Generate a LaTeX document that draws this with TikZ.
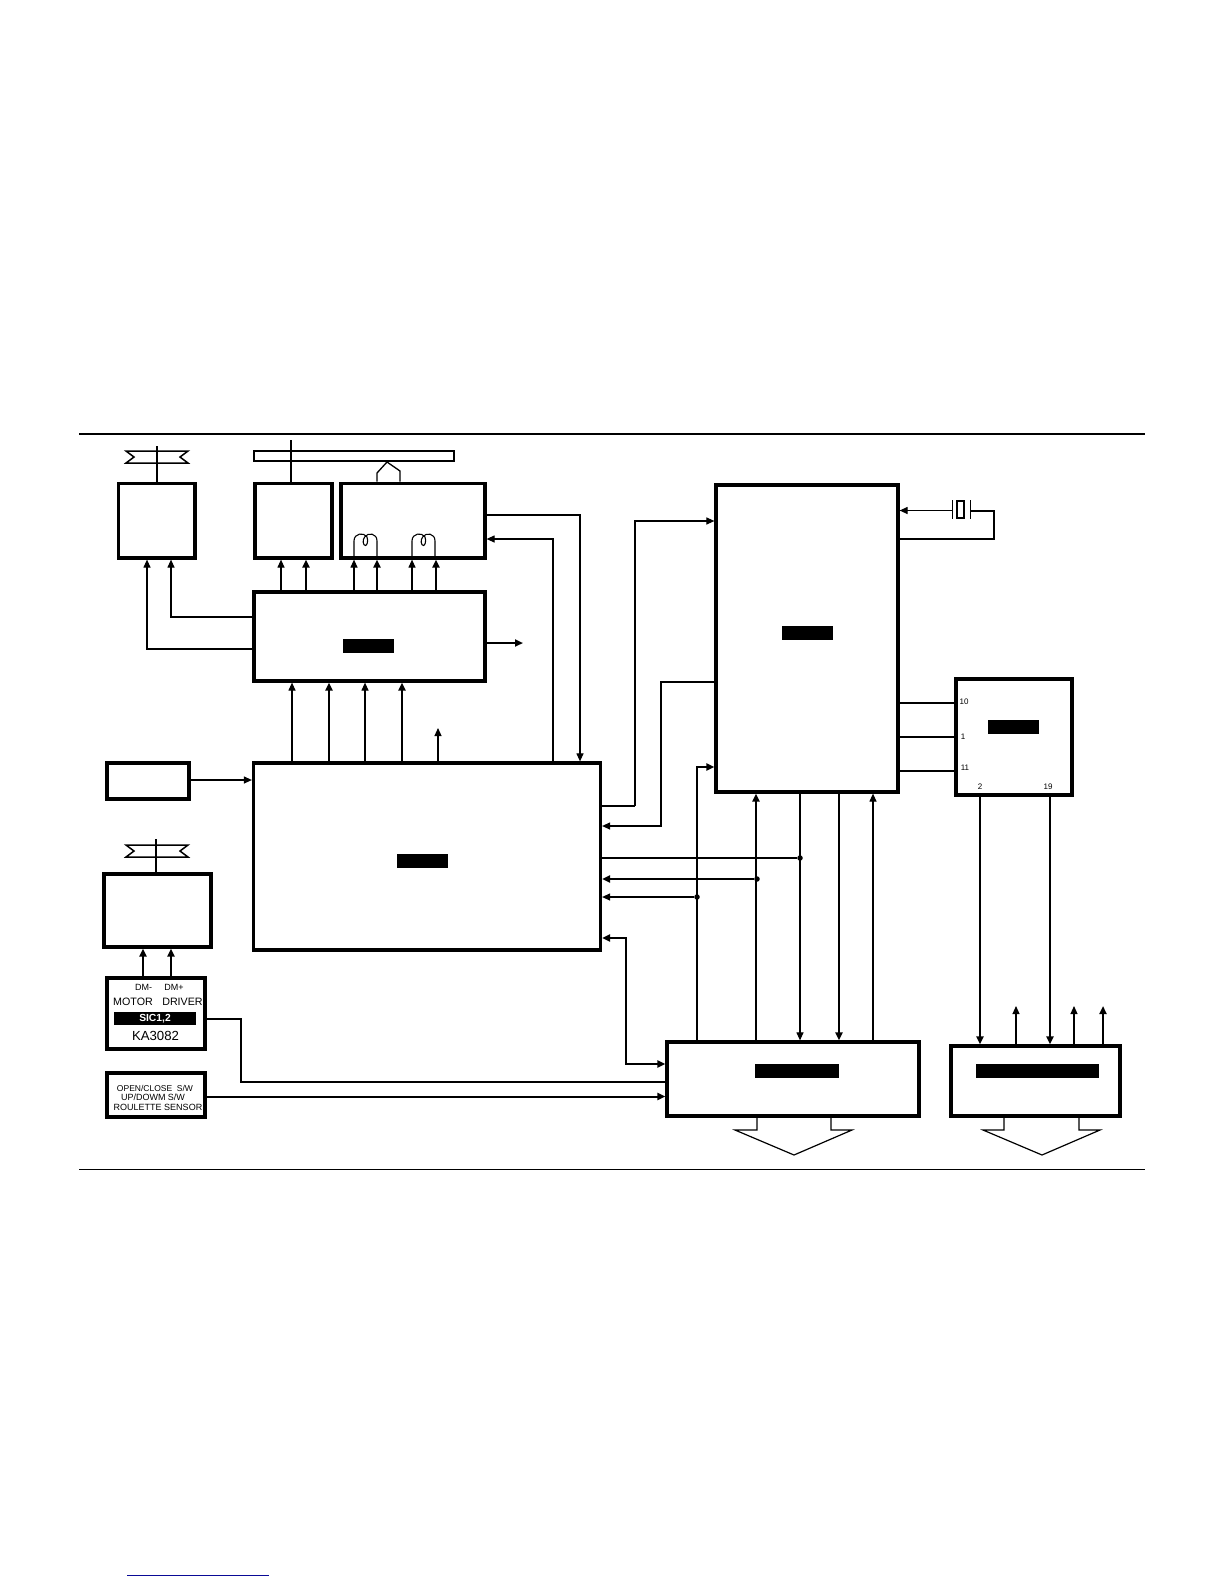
\documentclass[tikz,border=0pt]{standalone}
\usepackage{fontspec}
\setmainfont{Liberation Sans}
\usetikzlibrary{arrows.meta}
\tikzset{
  thn/.style={line width=1.15pt},
  thk/.style={line width=2pt},
  arr/.style={-{Triangle[length=8pt,width=7pt]}},
  lbl/.style={inner sep=0pt,font=\fontsize{9}{10}\selectfont},
  pin/.style={inner sep=0pt,font=\fontsize{8}{9}\selectfont},
  dotn/.style={circle,fill=black,inner sep=0pt,minimum size=5.5pt},
  blk/.style={fill=black,draw=none,inner sep=0pt,outer sep=0pt},
  shp/.style={line width=1.5pt,line join=miter},
}
% name, x1, y1, x2, y2 (stroke centre)
\newcommand{\blockbox}[5]{%
  \pgfmathsetmacro{\bw}{#4-#2}\pgfmathsetmacro{\bh}{#5-#3}%
  \node[draw,line width=3.2pt,inner sep=0pt,minimum width=\bw pt,minimum height=\bh pt] (#1) at ({(#2+#4)/2},{(#3+#5)/2}) {};}
\newcommand{\blackbar}[5]{%
  \pgfmathsetmacro{\bw}{#4-#2}\pgfmathsetmacro{\bh}{#5-#3}%
  \node[blk,minimum width=\bw pt,minimum height=\bh pt] (#1) at ({(#2+#4)/2},{(#3+#5)/2}) {};}
\newcommand{\ribbon}[2]{% cx, top
  \draw[shp,fill=white] (#1-31,#2) -- (#1+31,#2) -- (#1+23,#2+6) -- (#1+31,#2+12) -- (#1-31,#2+12) -- (#1-23,#2+6) -- cycle;}
\newcommand{\coil}[1]{% left leg x
  \draw[line width=1.1pt] (#1,558) -- (#1,541) .. controls (#1,533) and (#1+10,532) .. (#1+13,537)
   .. controls (#1+14.5,541) and (#1+13,545.5) .. (#1+11.5,545.5) .. controls (#1+9,545.5) and (#1+8,540) .. (#1+11,536.5)
   .. controls (#1+14,532.5) and (#1+23,533) .. (#1+23,541) -- (#1+23,558);}
\begin{document}
\begin{tikzpicture}[x=1pt,y=-1pt]
\path[use as bounding box,fill=white] (0,0) rectangle (1224,1584);
% rules
\coordinate (ruleTL) at (79,434); \coordinate (ruleTR) at (1145,434);
\coordinate (ruleBL) at (79,1169.5); \coordinate (ruleBR) at (1145,1169.5);
\coordinate (footL) at (127,1575); \coordinate (footR) at (269,1575);
\draw[line width=1.8pt] (ruleTL) -- (ruleTR);
\draw[line width=1.1pt] (ruleBL) -- (ruleBR);
\definecolor{footblue}{RGB}{10,10,150}
\draw[line width=1pt,footblue] (footL) -- (footR);
% boxes
\blockbox{mA}{118.3}{483.3}{195}{558}
\blockbox{mB}{255}{483.3}{332}{558}
\blockbox{mC}{341}{483.3}{485}{558}
\blockbox{drv}{254}{592}{485}{681}
\blockbox{small}{107}{763}{189}{799}
\blockbox{main}{253.5}{763}{600.5}{950}
\blockbox{mD}{104}{874}{211}{947}
\blockbox{mdrv}{107}{978}{205}{1049}
\blockbox{sw}{107}{1073}{205}{1117}
\blockbox{cpu}{716}{485}{898}{792}
\blockbox{ic}{956}{679}{1072}{795}
\blockbox{boxE}{667}{1042}{919}{1116}
\blockbox{boxF}{951}{1046}{1120}{1116}
% black bars
\blackbar{bDrv}{343}{639}{394}{653}
\blackbar{bMain}{397}{854}{448}{868}
\blackbar{bCpu}{782}{626}{833}{640}
\blackbar{bIc}{988}{720}{1039}{734}
\blackbar{bE}{755}{1064}{839}{1078}
\blackbar{bF}{976}{1064}{1099}{1078}
\blackbar{bM}{114}{1012}{196}{1025}
% texts
\node[inner sep=0pt,text=white,font=\bfseries\fontsize{10.3}{11}\selectfont] (tSic) at (155,1018.5) {SIC1,2};
\node[inner sep=0pt,font=\fontsize{13.2}{14}\selectfont] (tKa) at (155.5,1036) {KA3082};
\node[inner sep=0pt,font=\fontsize{10.7}{12}\selectfont] (tMot) at (133,1002) {MOTOR};
\node[inner sep=0pt,font=\fontsize{10.7}{12}\selectfont] (tDrv) at (182.5,1002) {DRIVER};
\node[lbl] (tDmm) at (143.5,987) {DM-};
\node[lbl] (tDmp) at (174,987) {DM+};
\node[inner sep=0pt,font=\fontsize{8.5}{10}\selectfont] (tOpen) at (155,1088) {OPEN/CLOSE\ \ S/W};
\node[lbl] (tUp) at (153,1097.5) {UP/DOWM S/W};
\node[lbl] (tRou) at (158,1107) {ROULETTE SENSOR};
\node[pin] (p10) at (964,702) {10};
\node[pin] (p1) at (963,737) {1};
\node[pin] (p11) at (965,768) {11};
\node[pin] (p2) at (980,787) {2};
\node[pin] (p19) at (1048,787) {19};
% spindle & disc shapes
\ribbon{157}{451}
\coordinate (shA) at (157,446);
\draw[thn] (shA) -- (mA.north -| shA);
\ribbon{157}{845}
\coordinate (shD) at (156,839);
\draw[line width=1.6pt] (shD) -- (mD.north -| shD);
\coordinate (barTL) at (254,451); \coordinate (barBR) at (454,461);
\draw[shp,fill=white] (barTL) rectangle (barBR);
\coordinate (shB) at (291,440);
\draw[thn] (shB) -- (mB.north -| shB);
\coordinate (pkL) at (377,473); \coordinate (pkT) at (387,462); \coordinate (pkR) at (400,471);
\draw[line width=1.3pt] (mC.north -| pkL) -- (pkL) -- (pkT) -- (pkR) -- (mC.north -| pkR);
\coil{354}
\coil{412}
% crystal
\coordinate (xtalP1t) at (952,500); \coordinate (xtalP1b) at (952,519);
\coordinate (xtalP2t) at (970,500); \coordinate (xtalP2b) at (970,519);
\draw[line width=1pt] (xtalP1t) -- (xtalP1b);
\draw[line width=1pt] (xtalP2t) -- (xtalP2b);
\coordinate (xrTL) at (957,501); \coordinate (xrBR) at (964,518);
\draw[line width=1.5pt] (xrTL) rectangle (xrBR);
\coordinate (xIn) at (952,510.5); \coordinate (xOut) at (970,511); \coordinate (xCor) at (994,511);
\draw[thn,arr] (xIn) -- (cpu.east |- xIn);
\draw[thk] (xOut) -- (xCor) -- (xCor |- 0,539) -- (cpu.east |- 0,539);
% driver -> motors above
\foreach \px/\st in {281/thn,306/thk,354/thn,377/thk,412/thn,436/thk}{\draw[\st,arr] (\px,0 |- drv.north) -- (\px,0 |- mC.south);}
\coordinate (aA) at (147,649); \coordinate (aB) at (171,617);
\draw[thn,arr] (drv.west |- aA) -- (aA) -- (aA |- mA.south);
\draw[thn,arr] (drv.west |- aB) -- (aB) -- (aB |- mA.south);
\coordinate (drvOut) at (523,643);
\draw[thk,arr] (drv.east |- drvOut) -- (drvOut);
% main -> driver
\foreach \px/\st in {292/thn,329/thk,365/thn,402/thk}{\draw[\st,arr] (\px,0 |- main.north) -- (\px,0 |- drv.south);}
\coordinate (mainFree) at (438,728);
\draw[thn,arr] (mainFree |- main.north) -- (mainFree);
% C <-> main
\coordinate (cOut) at (580,515); \coordinate (cIn) at (553,539);
\draw[thn,arr] (mC.east |- cOut) -- (cOut) -- (cOut |- main.north);
\draw[thn,arr] (cIn |- main.north) -- (cIn) -- (mC.east |- cIn);
% small box -> main
\coordinate (sM) at (220,780);
\draw[thn,arr] (small.east |- sM) -- (main.west |- sM);
% main <-> cpu
\coordinate (c1) at (635,806); \coordinate (c1t) at (635,521);
\draw[thk] (main.east |- c1) -- (c1);
\draw[thn,arr] (c1) -- (c1t) -- (cpu.west |- c1t);
\coordinate (c2) at (661,682); \coordinate (c2b) at (661,826);
\draw[thn,arr] (cpu.west |- c2) -- (c2) -- (c2b) -- (main.east |- c2b);
% bus taps
\node[dotn] (d1) at (800,858) {};
\node[dotn] (d2) at (757,879) {};
\node[dotn] (d3) at (697,897) {};
\draw[thk] (main.east |- d1) -- (d1);
\draw[thk,arr] (d2) -- (main.east |- d2);
\draw[thn,arr] (d3) -- (main.east |- d3);
% E <-> cpu
\coordinate (v1t) at (697,767);
\draw[thk,arr] (v1t |- boxE.north) -- (v1t) -- (cpu.west |- v1t);
\draw[thk,arr] (756,0 |- boxE.north) -- (756,0 |- cpu.south);
\draw[thn,arr] (800,0 |- cpu.south) -- (800,0 |- boxE.north);
\draw[thk,arr] (839,0 |- cpu.south) -- (839,0 |- boxE.north);
\draw[thn,arr] (873,0 |- boxE.north) -- (873,0 |- cpu.south);
% main <-> E
\coordinate (dbA) at (626,938); \coordinate (dbB) at (626,1064);
\draw[thk,{Triangle[length=8pt,width=7pt]}-{Triangle[length=8pt,width=7pt]}] (main.east |- dbA) -- (dbA) -- (dbB) -- (boxE.west |- dbB);
% left lower
\coordinate (m1) at (143,0); \coordinate (m2) at (171,0);
\draw[thk,arr] (m1 |- mdrv.north) -- (m1 |- mD.south);
\draw[thk,arr] (m2 |- mdrv.north) -- (m2 |- mD.south);
\coordinate (l1) at (241,1019); \coordinate (l2) at (241,1082);
\draw[thk] (mdrv.east |- l1) -- (l1) -- (l2) -- (boxE.west |- l2);
\coordinate (l3) at (400,1096.5);
\draw[thk,arr] (sw.east |- l3) -- (boxE.west |- l3);
% cpu <-> ic
\draw[thk] (cpu.east |- 0,703) -- (ic.west |- 0,703);
\draw[thn] (cpu.east |- 0,737) -- (ic.west |- 0,737);
\draw[thn] (cpu.east |- 0,771) -- (ic.west |- 0,771);
% ic -> F
\draw[thk,arr] (980,0 |- ic.south) -- (980,0 |- boxF.north);
\draw[thk,arr] (1050,0 |- ic.south) -- (1050,0 |- boxF.north);
% F free arrows
\coordinate (f1) at (1016,1006); \coordinate (f2) at (1074,1006); \coordinate (f3) at (1103,1006);
\draw[thn,arr] (f1 |- boxF.north) -- (f1);
\draw[thn,arr] (f2 |- boxF.north) -- (f2);
\draw[thk,arr] (f3 |- boxF.north) -- (f3);
% hollow bus arrows
\draw[line width=1.2pt] (757,0 |- boxE.south) -- (757,1130) -- (735,1130) -- (794,1155) -- (852,1130) -- (831,1130) -- (831,0 |- boxE.south);
\draw[line width=1.2pt] (1004,0 |- boxF.south) -- (1004,1130) -- (983,1130) -- (1042,1155) -- (1100,1130) -- (1079,1130) -- (1079,0 |- boxF.south);
\end{tikzpicture}
\end{document}
